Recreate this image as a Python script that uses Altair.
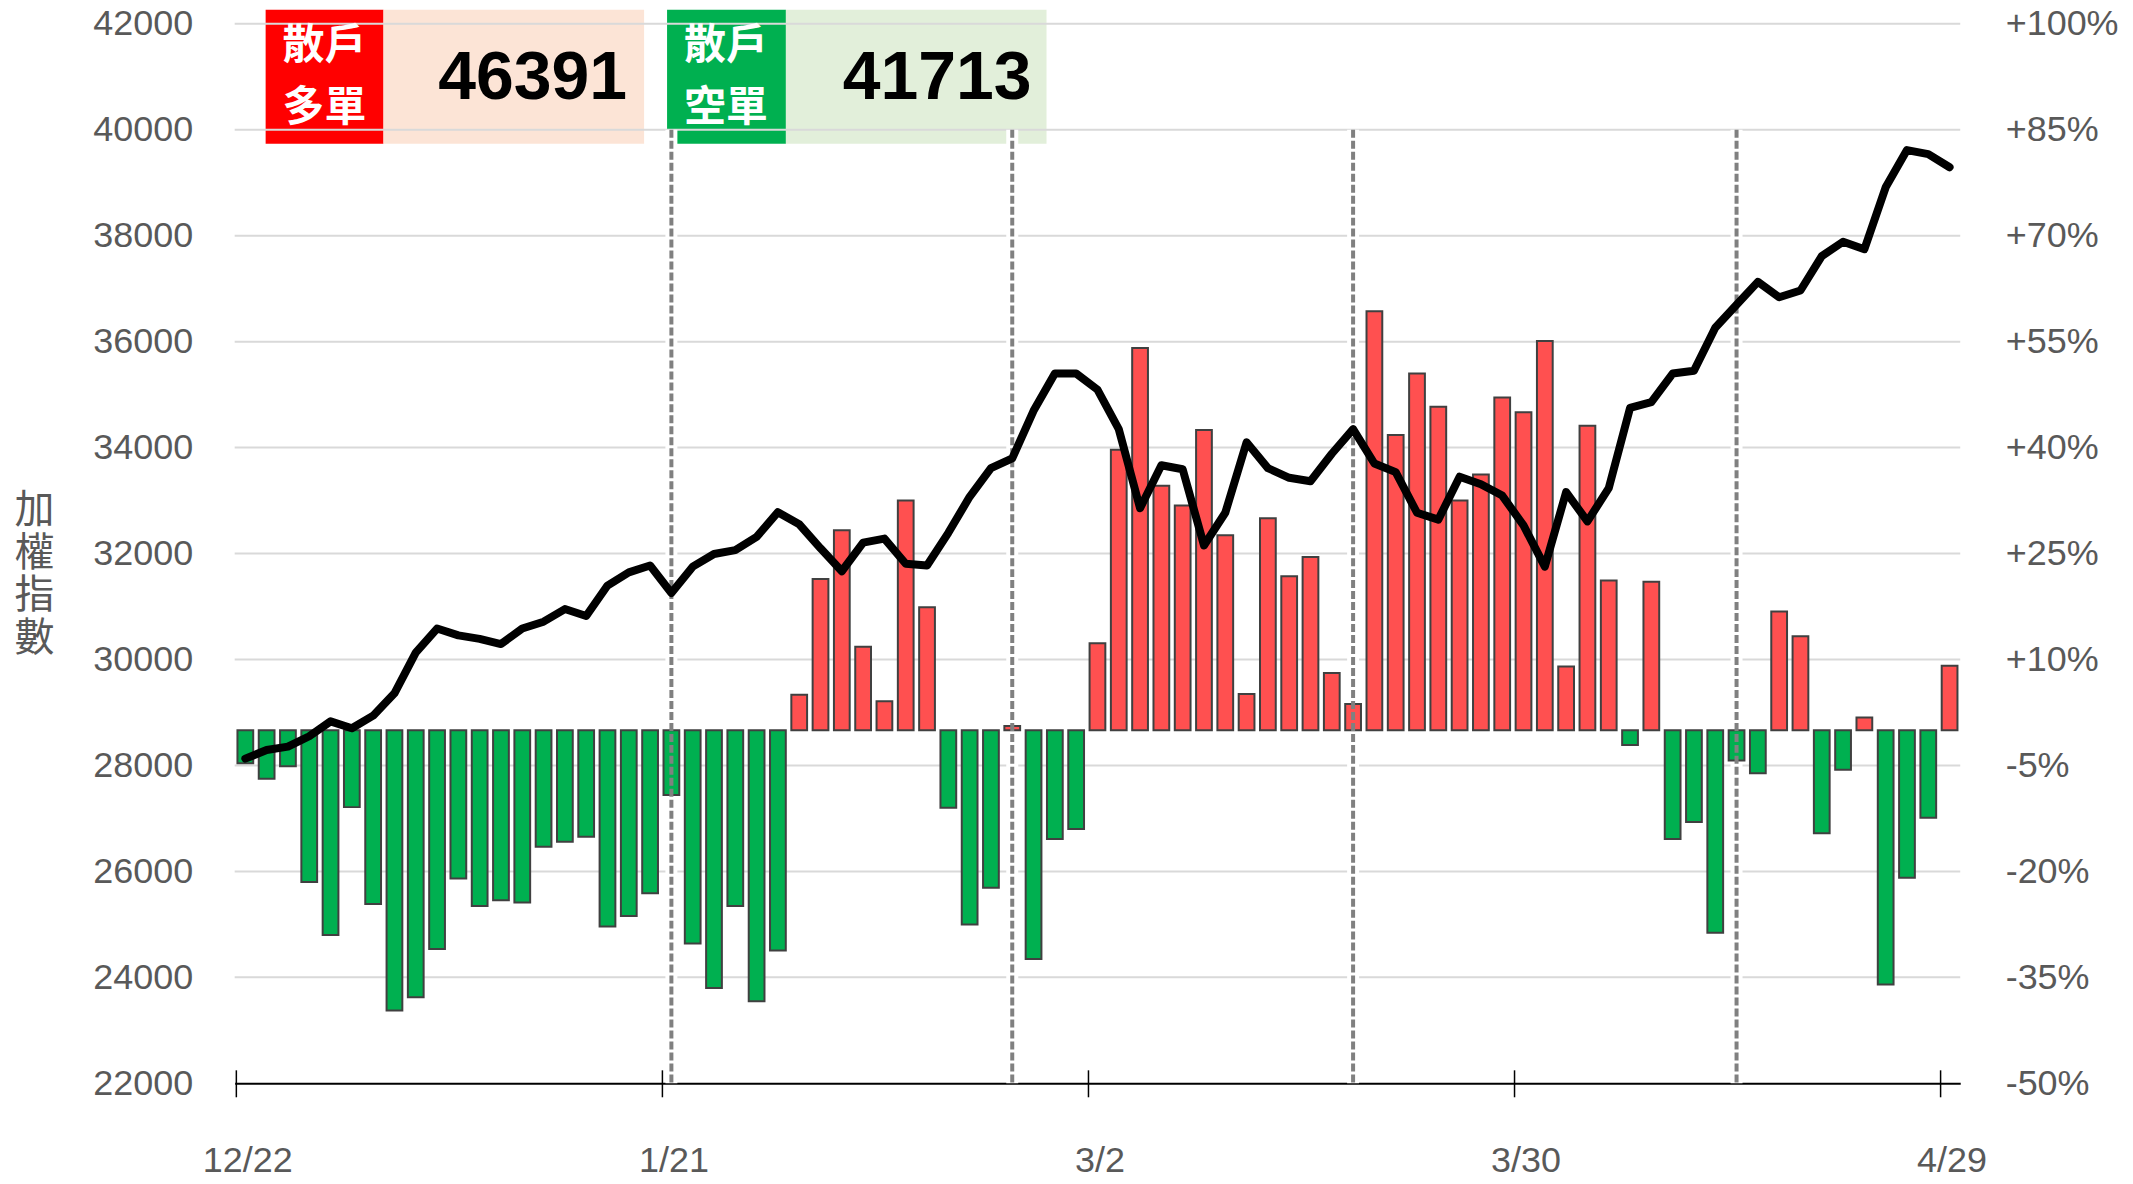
import altair as alt
import numpy as np
import pandas as pd

# ---- data ----
pct = [
    -4.7, -6.9, -5.1, -21.5, -29.0, -10.9, -24.6, -39.7, -37.8, -31.0,
    -21.0, -24.9, -24.1, -24.4, -16.5, -15.8, -15.1, -27.8, -26.3, -23.1,
    -9.2, -30.2, -36.5, -24.9, -38.4, -31.2, 5.0, 21.4, 28.3, 11.8,
    4.1, 32.5, 17.4, -11.0, -27.5, -22.3, 0.6, -32.4, -15.4, -14.0,
    12.3, 39.7, 54.1, 34.6, 31.8, 42.5, 27.6, 5.1, 30.0, 21.8,
    24.5, 8.1, 3.7, 59.3, 41.8, 50.5, 45.8, 32.5, 36.2, 47.1,
    45.0, 55.1, 9.0, 43.1, 21.2, -2.1, 21.0, -15.4, -13.0, -28.7,
    -4.3, -6.1, 16.8, 13.3, -14.6, -5.6, 1.8, -36.0, -20.9, -12.4,
    9.1,
]
idx = [
    28129, 28291, 28356, 28551, 28832, 28702, 28940, 29362, 30130, 30584,
    30455, 30390, 30292, 30584, 30714, 30952, 30822, 31396, 31645, 31774,
    31255, 31753, 31991, 32066, 32315, 32780, 32553, 32099, 31666, 32207,
    32282, 31807, 31774, 32391, 33072, 33613, 33797, 34695, 35398, 35398,
    35095, 34349, 32856, 33667, 33591, 32153, 32770, 34100, 33613, 33430,
    33364, 33884, 34349, 33700, 33537, 32770, 32640, 33451, 33310, 33094,
    32531, 31753, 33159, 32607, 33234, 34749, 34857, 35398, 35452, 36263,
    36696, 37129, 36837, 36966, 37615, 37885, 37745, 38913, 39616, 39541,
    39292,
]
tick_idx = [0, 20, 40, 60, 80]
tick_labels = ["12/22", "1/21", "3/2", "3/30", "4/29"]
marker_idx = [20, 36, 52, 70]
left_ticks = list(range(22000, 42001, 2000))
right_ticks = list(range(-50, 101, 15))
box_titles = ["散戶\n多單", "散戶\n空單"]
box_values = [46391, 41713]
y_title = ["加", "權", "指", "數"]

# ---- layout / style ----
W, H = 1728, 1061
FONT = "Liberation Sans"
CJK = "Noto Sans CJK TC"
GRAY = "#595959"
n = len(pct)

df = pd.DataFrame({"i": np.arange(n), "pct": pct, "idx": idx})
df["x0"] = df["i"] - 0.37
df["x1"] = df["i"] + 0.37
df["sign"] = np.where(df["pct"] >= 0, "up", "down")

xscale = alt.Scale(domain=[-0.5, n - 0.5], nice=False, zero=False)
yL = alt.Scale(domain=[22000, 42000], nice=False, zero=False)
yR = alt.Scale(domain=[-50, 100], nice=False, zero=False)

label_expr = ("[" + ",".join(f"'{t}'" for t in tick_labels) + "][indexof(["
              + ",".join(str(t) for t in tick_idx) + "], datum.value)]")

xaxis = alt.Axis(values=tick_idx, labelExpr=label_expr, title=None, grid=False,
                 ticks=False, tickSize=0, domain=True, domainColor="black",
                 domainWidth=2, labelFontSize=36, labelColor=GRAY, labelFont=FONT,
                 labelPadding=77, labelBaseline="middle", labelOffset=2,
                 labelFlush=False)

left_axis = alt.Axis(orient="left", values=left_ticks, format="d", grid=False,
                     domain=False, ticks=False, tickSize=0, labelFontSize=36,
                     labelColor=GRAY, labelFont=FONT, labelPadding=42,
                     title=y_title, titleAngle=0, titleAlign="center",
                     titleBaseline="top", titleX=-201, titleY=467,
                     titleFont=CJK, titleFontSize=40, titleFontWeight="normal",
                     titleColor=GRAY, titleLineHeight=43)

right_axis = alt.Axis(orient="right", values=right_ticks,
                      labelExpr="(datum.value > 0 ? '+' : '') + datum.value + '%'",
                      grid=False, domain=False, ticks=False, tickSize=0,
                      labelFontSize=36, labelColor=GRAY, labelFont=FONT,
                      labelPadding=45, title=None)

def X(field):
    return alt.X(field, scale=xscale, axis=xaxis)

# ---- annotation boxes ----
def rect(x0, x1, color):
    return alt.Chart(pd.DataFrame({"k": [0]})).mark_rect(color=color).encode(
        x=alt.value(x0), x2=alt.value(x1), y=alt.value(-14), y2=alt.value(120))

def box_text(title, value, cx, xr):
    t = alt.Chart(pd.DataFrame({"t": [title]})).mark_text(
        align="center", baseline="middle", font=CJK, fontSize=42,
        fontWeight="bold", color="white", lineBreak="\n", lineHeight=62
    ).encode(x=alt.value(cx), y=alt.value(22), text="t:N")
    v = alt.Chart(pd.DataFrame({"v": [str(value)]})).mark_text(
        align="right", baseline="middle", font=FONT, fontSize=68,
        fontWeight="bold", color="black"
    ).encode(x=alt.value(xr), y=alt.value(55), text="v:N")
    return t, v

boxes = [
    rect(31, 149, "#FF0000"), rect(149, 410, "#FCE4D6"),
    rect(433, 552, "#00B050"), rect(552, 813, "#E2EFDA"),
]
t1, v1 = box_text(box_titles[0], box_values[0], 90, 393)
t2, v2 = box_text(box_titles[1], box_values[1], 492, 798)

# ---- grid ----
grid = alt.Chart(pd.DataFrame({"v": left_ticks[1:]})).mark_rule(
    color="#D9D9D9", strokeWidth=2).encode(
    y=alt.Y("v:Q", scale=yL, axis=None), x=alt.value(0), x2=alt.value(W))

mk = pd.DataFrame({"m": marker_idx})
halo = alt.Chart(mk).mark_rule(color="white", strokeWidth=12).encode(
    x=X("m:Q"),
    y=alt.YDatum(40000, scale=yL, axis=None, type="quantitative"),
    y2=alt.Y2Datum(22000))
dashed = alt.Chart(mk).mark_rule(color="#808080", strokeWidth=4,
                                 strokeDash=[8, 3]).encode(
    x=X("m:Q"),
    y=alt.YDatum(40000, scale=yL, axis=None, type="quantitative"),
    y2=alt.Y2Datum(22000))

bars = alt.Chart(df).mark_rect(stroke="#404040", strokeWidth=2).encode(
    x=X("x0:Q"),
    x2="x1:Q",
    y=alt.Y("pct:Q", scale=yR, axis=right_axis),
    y2=alt.Y2Datum(0),
    color=alt.Color("sign:N", scale=alt.Scale(domain=["up", "down"],
                    range=["#FF5050", "#00B050"]), legend=None))

line = alt.Chart(df).mark_line(color="black", strokeWidth=8, strokeCap="round",
                               strokeJoin="round").encode(
    x=X("i:Q"),
    y=alt.Y("idx:Q", scale=yL, axis=left_axis))

ticks = alt.Chart(pd.DataFrame({"t": tick_idx})).mark_rule(
    color="black", strokeWidth=1.5, xOffset=-9).encode(
    x=X("t:Q"),
    y=alt.value(H - 13), y2=alt.value(H + 14))

chart = alt.layer(*boxes, grid, halo, bars, dashed, line, ticks, t1, v1, t2, v2
).resolve_scale(y="independent").properties(
    width=W, height=H,
    autosize=alt.AutoSizeParams(type="none"),
    padding={"left": 227, "top": 15, "right": 165, "bottom": 90},
    background="white",
).configure_view(stroke=None)

chart.save("out.html", embed_options={"renderer": "svg", "actions": False})
